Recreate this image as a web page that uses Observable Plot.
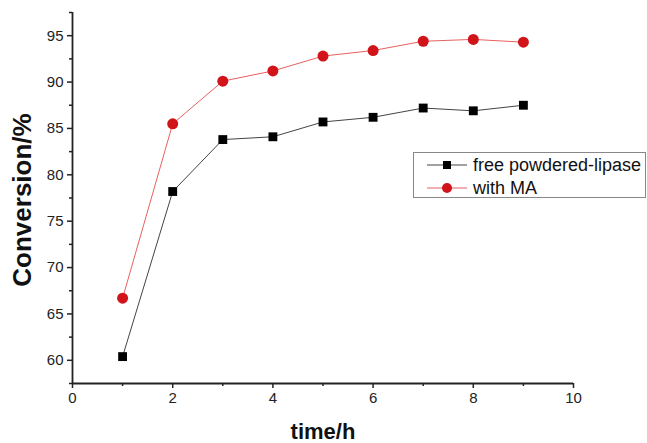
<!DOCTYPE html>
<html>
<head>
<meta charset="utf-8">
<script src="https://cdn.jsdelivr.net/npm/d3@7"></script>
<script src="https://cdn.jsdelivr.net/npm/@observablehq/plot@0.6"></script>
<style>
  body { margin: 0; background: #fff; }
  #wrap { position: relative; width: 647px; height: 443px; font-family: "Liberation Sans", Arial, sans-serif; }
  #legend { position: absolute; left: 413px; top: 152px; width: 233px; height: 46px; border: 1px solid #888; background: #fff; box-sizing: border-box; }
  .row { position: absolute; left: 0; height: 22px; display: flex; align-items: center; font-size: 18px; color: #111; white-space: nowrap; }
  .row svg { margin-left: 13px; margin-right: 6px; }
</style>
</head>
<body>
<div id="wrap"></div>
<script>
const times = [1, 2, 3, 4, 5, 6, 7, 8, 9];
const freeLipase = [60.4, 78.2, 83.8, 84.1, 85.7, 86.2, 87.2, 86.9, 87.5];
const withMA = [66.7, 85.5, 90.1, 91.2, 92.8, 93.4, 94.4, 94.6, 94.3];
const seriesNames = ["free powdered-lipase", "with MA"];
const xMajor = [0, 2, 4, 6, 8, 10];
const xMinor = [1, 3, 5, 7, 9];
const yMajor = [60, 65, 70, 75, 80, 85, 90, 95];
const yMinor = [57.5, 62.5, 67.5, 72.5, 77.5, 82.5, 87.5, 92.5, 97.5];
const xTitle = "time/h";
const yTitle = "Conversion/%";

const freeData = times.map((t, i) => ({t, v: freeLipase[i]}));
const maData = times.map((t, i) => ({t, v: withMA[i]}));

const chart = Plot.plot({
  width: 647,
  height: 443,
  marginLeft: 72,
  marginRight: 74,
  marginTop: 12,
  marginBottom: 60,
  style: {fontFamily: "Liberation Sans, Arial, sans-serif", color: "#222", background: "transparent"},
  x: {domain: [0, 10]},
  y: {domain: [57.5, 97.5]},
  marks: [
    Plot.axisX(xMajor, {label: null, tickSize: 5, tickPadding: 4, fontSize: 15, stroke: "#222", strokeWidth: 1.5}),
    Plot.axisX(xMinor, {label: null, tickSize: 3, tickFormat: () => "", stroke: "#222", strokeWidth: 1.5}),
    Plot.axisY(yMajor, {label: null, tickSize: 5, tickPadding: 4, fontSize: 15, stroke: "#222", strokeWidth: 1.5}),
    Plot.axisY(yMinor, {label: null, tickSize: 3, tickFormat: () => "", stroke: "#222", strokeWidth: 1.5}),
    Plot.ruleX([0], {stroke: "#222", strokeWidth: 1.8}),
    Plot.ruleY([57.5], {stroke: "#222", strokeWidth: 1.8}),
    Plot.lineY(freeData, {x: "t", y: "v", stroke: "#444", strokeWidth: 1}),
    Plot.lineY(maData, {x: "t", y: "v", stroke: "#e86060", strokeWidth: 1}),
    Plot.dot(freeData, {x: "t", y: "v", symbol: "square", r: 5, fill: "#000", stroke: "none"}),
    Plot.dot(maData, {x: "t", y: "v", symbol: "circle", r: 5.5, fill: "#d0141a", stroke: "none"}),
    Plot.text([xTitle], {text: d => d, frameAnchor: "bottom", dy: 55, fontSize: 22, fontWeight: "bold", fill: "#111"}),
    Plot.text([yTitle], {text: d => d, frameAnchor: "left", textAnchor: "middle", dx: -50, dy: 2, rotate: -90, fontSize: 26, fontWeight: "bold", fill: "#111"})
  ]
});

const wrap = document.getElementById("wrap");
wrap.appendChild(chart);

const legend = document.createElement("div");
legend.id = "legend";
const legendStyles = [
  {stroke: "#444", fill: "#000", shape: "square"},
  {stroke: "#e86060", fill: "#d0141a", shape: "circle"}
];
seriesNames.forEach((name, i) => {
  const row = document.createElement("div");
  row.className = "row";
  row.style.top = (1 + i * 23) + "px";
  const s = legendStyles[i];
  const marker = s.shape === "square"
    ? `<rect x="16" y="7" width="8" height="8" fill="${s.fill}"/>`
    : `<circle cx="20" cy="11" r="5" fill="${s.fill}"/>`;
  row.innerHTML = `<svg width="40" height="22"><line x1="0" x2="40" y1="11" y2="11" stroke="${s.stroke}" stroke-width="1"/>${marker}</svg><span>${name}</span>`;
  legend.appendChild(row);
});
wrap.appendChild(legend);
</script>
</body>
</html>
